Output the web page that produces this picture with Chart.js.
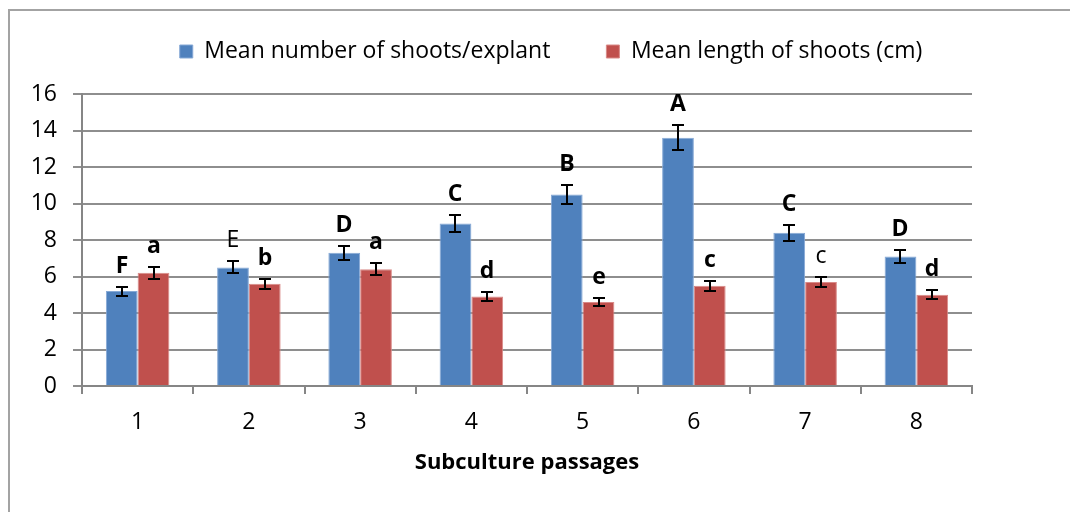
<!DOCTYPE html>
<html>
<head>
<meta charset="utf-8">
<script src="https://cdn.jsdelivr.net/npm/chart.js@4.4.0/dist/chart.umd.min.js"></script>
<style>
    html, body { margin: 0; padding: 0; background: #fff; }
    #wrap { position: relative; width: 1070px; height: 512px; overflow: hidden; }
    #frame { position: absolute; left: 8px; top: 9px; width: 1100px; height: 600px;
             border-left: 2px solid #a3a3a3; border-top: 2px solid #a3a3a3; }
    canvas { position: absolute; left: 0; top: 0; }
</style>
</head>
<body>
<div id="wrap">
    <div id="frame"></div>
    <canvas id="passagesChart" width="1070" height="512"></canvas>
</div>
<script>
// --- data ---
const passages = ['1', '2', '3', '4', '5', '6', '7', '8'];

const shootsNumber = [5.2, 6.5, 7.3, 8.9, 10.5, 13.6, 8.4, 7.1];
const shootsNumberErr = [0.25, 0.33, 0.37, 0.47, 0.54, 0.68, 0.44, 0.36];
const shootsNumberLetters = ['F', 'E', 'D', 'C', 'B', 'A', 'C', 'D'];

const shootsLength = [6.2, 5.6, 6.4, 4.9, 4.6, 5.5, 5.7, 5.0];
const shootsLengthErr = [0.32, 0.27, 0.32, 0.26, 0.23, 0.28, 0.27, 0.26];
const shootsLengthLetters = ['a', 'b', 'a', 'd', 'e', 'c', 'c', 'd'];

// letters printed in regular weight in the original (dataset index -> bar indexes)
const regularLetters = { 0: [1], 1: [6] };

const FONT = '"Open Sans", "Liberation Sans", sans-serif';

Chart.defaults.color = '#000';
Chart.defaults.font.family = FONT;

// --- error bars + significance letters ---
const errorBars = {
    id: 'errorBars',
    afterDatasetsDraw(chart) {
        const ctx = chart.ctx;
        const yScale = chart.scales.y;
        ctx.save();
        chart.data.datasets.forEach((ds, di) => {
            const meta = chart.getDatasetMeta(di);
            meta.data.forEach((bar, i) => {
                const v = ds.data[i];
                const e = ds.errors[i];
                const x = Math.round(bar.x);
                const top = Math.round(yScale.getPixelForValue(v + e));
                const bottom = Math.round(yScale.getPixelForValue(v - e));

                ctx.strokeStyle = '#000';
                ctx.lineWidth = 2;
                ctx.beginPath();
                ctx.moveTo(x, top); ctx.lineTo(x, bottom);
                ctx.moveTo(x - 6, top); ctx.lineTo(x + 6, top);
                ctx.moveTo(x - 6, bottom); ctx.lineTo(x + 6, bottom);
                ctx.stroke();

                const regular = (regularLetters[di] || []).includes(i);
                ctx.font = (regular ? '' : 'bold ') + '23px ' + FONT;
                ctx.fillStyle = '#000';
                ctx.textAlign = 'center';
                ctx.textBaseline = 'alphabetic';
                ctx.fillText(ds.letters[i], x, top - 14);
            });
        });
        ctx.restore();
    }
};

// --- legend placement (same spot as the original) ---
const legendSpot = {
    id: 'legendSpot',
    beforeLayout(chart) {
        const lg = chart.legend;
        if (lg && !lg._patched) {
            const fit = lg.fit;
            lg.fit = function () {
                fit.call(this);
                this.height = 94;
            };
            lg._patched = true;
        }
    },
    afterLayout(chart) {
        const lg = chart.legend;
        lg.top -= 16; lg.bottom -= 16;
        lg.left += 65; lg.right += 65;
    }
};

const ctx = document.getElementById('passagesChart').getContext('2d');

new Chart(ctx, {
    type: 'bar',
    data: {
        labels: passages,
        datasets: [
            {
                label: 'Mean number of shoots/explant',
                data: shootsNumber,
                errors: shootsNumberErr,
                letters: shootsNumberLetters,
                backgroundColor: '#4f81bd',
                borderColor: '#86a9d6',
                borderWidth: 1
            },
            {
                label: 'Mean length of shoots (cm)',
                data: shootsLength,
                errors: shootsLengthErr,
                letters: shootsLengthLetters,
                backgroundColor: '#c0504d',
                borderColor: '#d98a88',
                borderWidth: 1
            }
        ]
    },
    options: {
        responsive: false,
        animation: false,
        categoryPercentage: 0.571,
        barPercentage: 1,
        layout: { padding: { top: 0, right: 98, bottom: 0, left: 0 } },
        plugins: {
            legend: {
                position: 'top',
                labels: {
                    boxWidth: 13,
                    boxHeight: 13,
                    padding: 56,
                    font: { size: 23 }
                }
            },
            tooltip: { enabled: false }
        },
        scales: {
            x: {
                afterFit: s => { s.height = 126; },
                grid: {
                    drawOnChartArea: false,
                    color: '#868686',
                    lineWidth: 2,
                    tickLength: 8
                },
                border: { color: '#868686', width: 2 },
                ticks: { font: { size: 23 }, padding: 15 },
                title: {
                    display: true,
                    text: 'Subculture passages',
                    font: { size: 22, weight: 'bold' },
                    padding: { top: 0, bottom: 36 }
                }
            },
            y: {
                min: 0,
                max: 16,
                afterFit: s => { s.width = 82; },
                grid: { color: '#8e8e8e', lineWidth: 2, tickLength: 9 },
                border: { color: '#868686', width: 2 },
                ticks: { stepSize: 2, font: { size: 23 }, padding: 16 }
            }
        }
    },
    plugins: [errorBars, legendSpot]
});
</script>
</body>
</html>
